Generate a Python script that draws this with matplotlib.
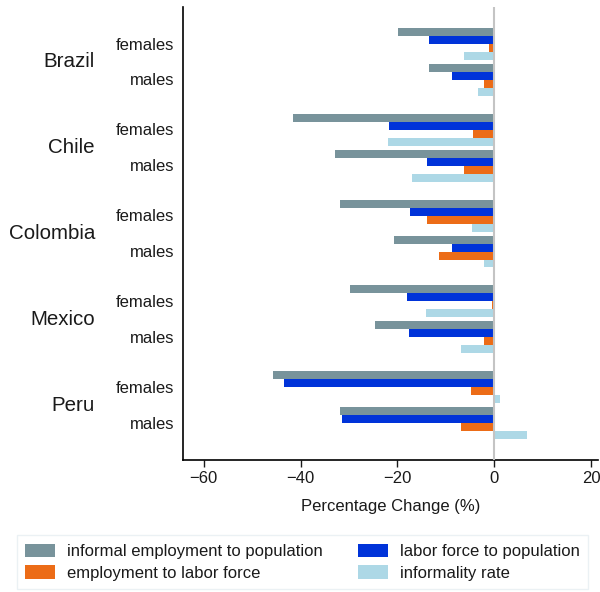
import numpy as np
import matplotlib.pyplot as plt
from matplotlib.patches import Patch

plt.rcParams['font.family'] = ['Liberation Sans', 'DejaVu Sans']

countries = ["Brazil", "Chile", "Colombia", "Mexico", "Peru"]
sexes = ["females", "males"]
series = ["informal employment to population", "labor force to population",
          "employment to labor force", "informality rate"]
colors = ["#78939b", "#0033d9", "#ec6c17", "#add8e6"]

# values per country: [females, males]
informal_emp_pop = [[-19.8, -13.4], [-41.5, -32.8], [-31.8, -20.6], [-29.7, -24.7], [-45.6, -31.9]]
labor_force_pop = [[-13.4, -8.8], [-21.8, -13.8], [-17.3, -8.8], [-18.1, -17.7], [-43.5, -31.5]]
emp_labor_force = [[-1.0, -2.0], [-4.3, -6.2], [-13.8, -11.3], [-0.4, -2.0], [-4.7, -6.9]]
informality_rate = [[-6.3, -3.3], [-22.0, -16.9], [-4.5, -2.0], [-14.0, -6.8], [1.3, 6.7]]

data = [informal_emp_pop, labor_force_pop, emp_labor_force, informality_rate]

# layout (in bar-height units)
bar_h = 1.0
sub_gap = 0.5
country_gap = 2.25
margin = 2.6
group = 4 * bar_h
period = 2 * group + sub_gap + country_gap

fig = plt.figure(figsize=(6, 5.92), dpi=100)
ax = fig.add_axes([0.305, 0.223, 0.692, 0.765])

for c, country in enumerate(countries):
    base = margin + c * period
    for s, sex in enumerate(sexes):
        start = base + s * (group + sub_gap)
        for k in range(4):
            y = start + k * bar_h + bar_h / 2
            ax.barh(y, data[k][c][s], height=bar_h, color=colors[k], zorder=3)
        ax.text(-0.021, start + group / 2 + 0.15, sex, transform=ax.get_yaxis_transform(),
                ha='right', va='center', fontsize=12, color='#1a1a1a')
    ax.text(-0.212, base + group + sub_gap / 2, country, transform=ax.get_yaxis_transform(),
            ha='right', va='center', fontsize=14.8, color='#1a1a1a')

total = margin * 2 + len(countries) * period - country_gap
ax.set_ylim(total, 0)
ax.set_xlim(-64.3, 21.5)
ax.axvline(0, color='#c4c4c4', lw=1.5, zorder=4)

ax.set_yticks([])
ax.set_xticks([-60, -40, -20, 0, 20])
ax.tick_params(axis='x', labelsize=12, length=5, width=1, colors='#1a1a1a', pad=3)
ax.spines['top'].set_visible(False)
ax.spines['right'].set_visible(False)
ax.spines['left'].set_linewidth(1.2)
ax.spines['bottom'].set_linewidth(1.2)
ax.set_xlabel("Percentage Change (%)", fontsize=12, color='#1a1a1a', labelpad=9)

order = [0, 2, 1, 3]
handles = [Patch(facecolor=colors[i], label=series[i]) for i in order]
leg = fig.legend(handles=handles, ncol=2, loc='lower center', bbox_to_anchor=(0.504, 0.005),
                 frameon=True, fancybox=False, fontsize=12, handlelength=1.8, handleheight=0.9,
                 columnspacing=2.1, borderpad=0.5, labelspacing=0.35, handletextpad=0.7,
                 borderaxespad=0)
leg.get_frame().set_edgecolor('#e6eef2')
leg.get_frame().set_linewidth(1.0)
for t in leg.get_texts():
    t.set_color('#1a1a1a')

fig.savefig("out.png", dpi=100)
